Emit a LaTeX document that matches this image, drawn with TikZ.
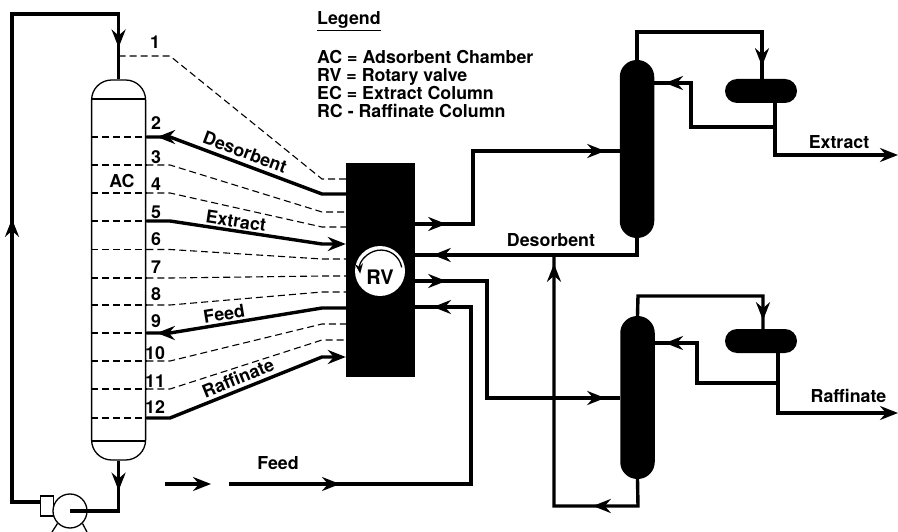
\documentclass[tikz,border=0pt]{standalone}
\usepackage{fontspec}
\setmainfont{TeX Gyre Heros}
\usepackage{tikz}
\usetikzlibrary{arrows.meta,decorations.markings}

\begin{document}
\begin{tikzpicture}[
    x=1pt, y=-1pt,
    % Text
    txt/.style={inner sep=0pt, font=\fontsize{17.8}{18}\bfseries\selectfont},
    % Vessels
    chamber/.style={rectangle, draw, fill=white, line width=1.3pt, rounded corners=20pt, minimum width=54pt, minimum height=380pt},
    column/.style={rectangle, fill=black, rounded corners=17pt, minimum width=34.5pt},
    drum/.style={rectangle, fill=black, rounded corners=12pt, minimum width=72pt, minimum height=24pt},
    valve/.style={rectangle, fill=black, minimum width=69pt, minimum height=214pt},
    % Lines
    stream/.style={line width=3.4pt},
    tray/.style={line width=1.1pt, dash pattern=on 7pt off 4pt},
    tip/.style={-{Stealth[length=18pt,width=14pt,inset=6pt]}},
    flow/.style={postaction={decorate, decoration={markings, mark=at position #1 with {\arrow{Stealth[length=18pt,width=14pt,inset=6pt]}}}}},
    flowtwo/.style 2 args={postaction={decorate, decoration={markings, mark=at position #1 with {\arrow{Stealth[length=18pt,width=14pt,inset=6pt]}}, mark=at position #2 with {\arrow{Stealth[length=18pt,width=14pt,inset=6pt]}}}}}
]
\useasboundingbox (0,0) rectangle (898,532);

% Vessels
\node[chamber] (ac) at (118.6,270) {};
\node[valve] (rv) at (380.5,270) {};
\node[column, minimum height=178pt] (ec) at (637,149) {};
\node[column, minimum height=163pt] (rc) at (637.5,397.5) {};
\node[drum] (cond1) at (761,91) {};
\node[drum] (cond2) at (761,341) {};

% Chamber head and bottom
\draw[line width=1.3pt] (ac.west |- 0,99) -- (ac.east |- 0,99);
\draw[line width=1.3pt] (ac.west |- 0,441) -- (ac.east |- 0,441);

% Ports on the chamber and on the valve
\foreach \i/\ty/\vy in {2/137/194, 3/165/212, 4/193/227, 5/221/244, 6/249.5/259, 7/278/276, 8/305/292, 9/333/308, 10/361/324, 11/389/340, 12/418/357} {
    \coordinate (t\i) at (ac.east |- 0,\ty);
    \coordinate (a\i) at (170,\ty);
    \coordinate (b\i) at (322,\vy);
    \coordinate (v\i) at (rv.west |- 0,\vy);
    \draw[tray] (ac.west |- t\i) -- (t\i);
}
\coordinate (t1) at (ac.north |- 0,56);
\coordinate (a1) at (170,56);
\coordinate (b1) at (322,179);
\coordinate (v1) at (rv.west |- 0,179);

% Idle ports
\foreach \i in {1,3,4,6,7,8,10,11} {
    \draw[tray] (t\i) -- (a\i) -- (b\i) -- (v\i);
}

% Active ports
\draw[stream, flow=199pt] (v2) -- (b2) -- (a2) -- (t2);
\draw[stream, tip] (t5) -- (a5) -- (b5) -- (v5);
\draw[stream, flow=191pt] (v9) -- (b9) -- (a9) -- (t9);
\draw[stream, tip] (t12) -- (a12) -- (b12) -- (v12);

% Pump
\node[rectangle, draw, line width=1.3pt, minimum width=13pt, minimum height=20pt, inner sep=0pt] (pumpbox) at (47,506) {};
\node[circle, draw, fill=white, line width=1.3pt, minimum size=34pt, inner sep=0pt] (pump) at (70,511) {};
\coordinate (legl) at (52,532);
\coordinate (legr) at (87,532);
\draw[line width=1.3pt] (pump.225) -- (legl);
\draw[line width=1.3pt] (pump.-45) -- (legr);

% Recycle loop
\draw[stream, flowtwo={311pt}{656pt}] (pumpbox.west |- 0,502) -- (12,502) -- (12,14) -| (ac.north);
\draw[stream, flow=30pt] (ac.south) |- (pump.center);

% Valve
\node[circle, fill=white, minimum size=50pt, inner sep=0pt] (rvhole) at (380,271) {};
\node[txt, font=\fontsize{20}{20}\bfseries\selectfont] (rvlabel) at (380,277) {RV};
\coordinate (rvarc) at (401.7,267.4);
\draw[line width=1.3pt, -{Stealth[length=10pt,width=8pt]}] (rvarc) arc[start angle=-10, end angle=-187, radius=21];

% Feed
\coordinate (feeda) at (165,484);
\coordinate (feedb) at (211,484);
\coordinate (feedc) at (229,484);
\draw[stream, tip] (feeda) -- (feedb);
\draw[stream, flowtwo={111pt}{457pt}] (feedc) -- (471,484) -- (471,307) -- (rv.east |- 0,307);

% Extract side
\draw[stream, flowtwo={31pt}{263pt}] (rv.east |- 0,224) -- (473,224) -- (473,151) -- (ec.west |- 0,151);
\draw[stream, flow=221pt] (ec.south) |- (rv.east |- 0,255);
\draw[stream, flow=187pt] (ec.north) -- (637,32) -| (762,79);
\coordinate (ecout) at (775,103);
\coordinate (ecend) at (898,155);
\draw[stream, tip] (ecout) |- (ecend);
\draw[stream, flow=154pt] (775,127) -- (691,127) -- (691,83) -- (ec.east |- 0,83);

% Raffinate side
\draw[stream, flowtwo={31pt}{307pt}] (rv.east |- 0,281) -- (487,281) -- (487,398) -- (rc.west |- 0,398);
\draw[stream, flowtwo={72pt}{353pt}] (rc.south) -- (638,506) -- (554,506) -- (554,255);
\draw[stream, flow=169pt] (rc.north) -- (638,296) -| (763,329);
\coordinate (rcout) at (778,353);
\coordinate (rcend) at (898,413);
\draw[stream, tip] (rcout) |- (rcend);
\draw[stream, flow=153pt] (778,383) -- (697,383) -- (697,343) -- (rc.east |- 0,343);

% Port numbers
\foreach \i/\x/\y in {1/155/42, 2/156/123, 3/156/157, 4/156/184, 5/156/212, 6/156/239, 7/156/267, 8/156/294, 9/156/321, 10/155/353, 11/155/381, 12/155/407} {
    \node[txt] (n\i) at (\x,\y) {\i};
}

% Stream labels
\node[txt] (acname) at (122,181) {AC};
\node[txt, rotate=-20.5] (ldes) at (245,152) {Desorbent};
\node[txt, rotate=-8.6] (lext) at (236,221) {Extract};
\node[txt, rotate=9.4] (lfeed) at (224,314) {Feed};
\node[txt, rotate=22] (lraf) at (238,378) {Raffinate};
\node[txt] (ldes2) at (551,240) {Desorbent};
\node[txt] (lfeed2) at (278,463) {Feed};
\node[txt] (lext2) at (839,142) {Extract};
\node[txt] (lraf2) at (848.5,396) {Raffinate};

% Legend
\node[txt, anchor=base west] (legend) at (317,25) {\underline{Legend}};
\node[txt, anchor=north west, align=left] (legendtext) at (317,50) {AC = Adsorbent Chamber\\RV = Rotary valve\\EC = Extract Column\\RC - Raffinate Column};

\end{tikzpicture}
\end{document}
